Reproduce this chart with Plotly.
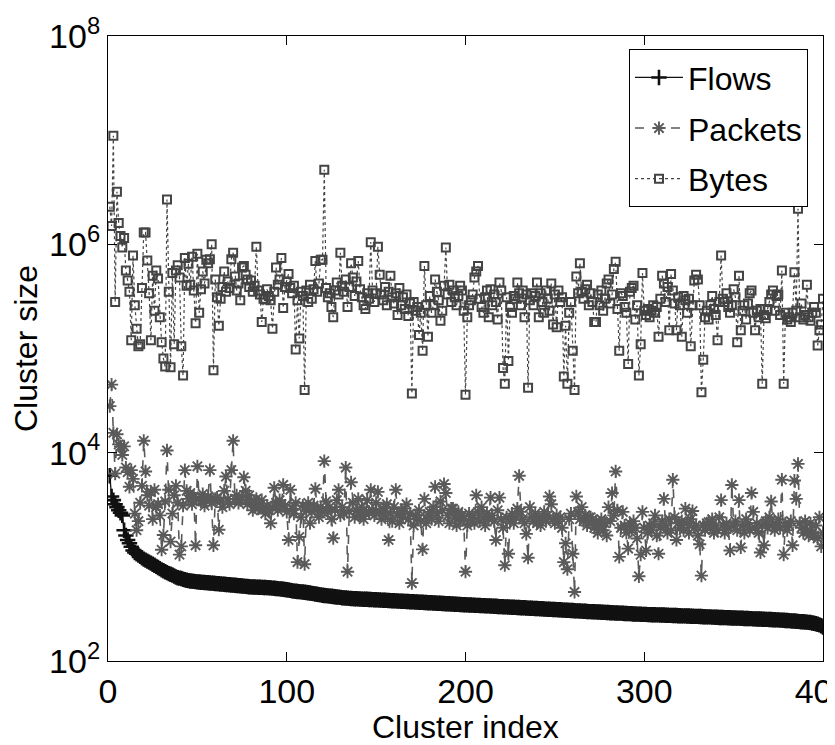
import plotly.graph_objects as go

cluster_index = list(range(1, 401))

flows = [
    6000, 3800, 3500, 3200, 3000, 2800, 2650, 2500, 1800, 1600,
    1450, 1350, 1250, 1150, 1100, 1070, 1040, 1010, 980, 950,
    930, 910, 890, 870, 850, 830, 810, 790, 770, 750,
    735, 720, 705, 690, 680, 670, 655, 640, 630, 625,
    620, 610, 602, 596, 591, 587, 584, 581, 578, 575,
    573, 571, 569, 567, 565, 563, 561, 559, 557, 555,
    553, 551, 549, 547, 545, 543, 541, 539, 537, 535,
    533, 531, 529, 527, 525, 523, 521, 519, 517, 515,
    514, 513, 512, 511, 510, 509, 508, 507, 506, 505,
    503, 501, 499, 497, 495, 493, 491, 489, 486, 483,
    480, 476, 472, 469, 467, 465, 463, 461, 459, 457,
    455, 452, 449, 446, 443, 440, 437, 434, 431, 428,
    426, 424, 422, 420, 418, 416, 414, 412, 410, 408,
    405, 404, 402, 401, 399, 398, 397, 396, 396, 395,
    394, 393, 392, 391, 391, 390, 389, 388, 387, 387,
    386, 385, 384, 383, 383, 382, 381, 380, 379, 379,
    378, 377, 376, 375, 375, 374, 373, 372, 371, 371,
    370, 369, 368, 367, 367, 366, 365, 364, 363, 363,
    362, 361, 360, 359, 359, 358, 357, 356, 355, 355,
    354, 353, 352, 351, 351, 350, 349, 348, 347, 347,
    346, 345, 345, 344, 343, 342, 342, 341, 340, 340,
    339, 338, 338, 337, 336, 335, 335, 334, 333, 333,
    332, 331, 331, 330, 329, 328, 328, 327, 326, 326,
    325, 324, 324, 323, 322, 321, 321, 320, 319, 319,
    318, 317, 317, 316, 315, 314, 314, 313, 312, 312,
    311, 310, 310, 309, 308, 307, 307, 306, 305, 305,
    304, 303, 303, 302, 301, 300, 300, 299, 298, 298,
    297, 297, 296, 295, 295, 294, 294, 293, 292, 292,
    291, 291, 290, 289, 289, 288, 288, 287, 286, 286,
    285, 285, 284, 283, 283, 282, 282, 281, 280, 280,
    280, 279, 279, 278, 278, 278, 277, 277, 276, 276,
    276, 275, 275, 274, 274, 273, 273, 273, 272, 272,
    271, 271, 271, 270, 270, 269, 269, 268, 268, 268,
    267, 267, 266, 266, 265, 265, 265, 264, 264, 263,
    263, 262, 262, 262, 261, 261, 260, 260, 259, 259,
    259, 258, 258, 257, 257, 256, 256, 256, 255, 255,
    254, 254, 253, 253, 253, 252, 252, 251, 251, 250,
    250, 249, 249, 248, 248, 247, 247, 246, 245, 245,
    244, 243, 242, 242, 241, 240, 239, 238, 238, 237,
    236, 235, 234, 232, 230, 228, 225, 222, 218, 212,
]

packets = [
    2.8e4, 4.5e4, 1.55e4, 6300, 1.5e4, 1.2e4, 1.15e4, 9500, 1.15e4, 7200,
    6500, 4700, 6800, 5600, 2600, 1800, 2200, 3300, 4800, 1.3e4,
    6600, 3900, 3100, 4200, 2300, 4400, 3000, 3200, 2500, 1170,
    1620, 3400, 1.05e4, 4400, 1400, 2600, 3900, 4800, 3300, 1050,
    1260, 3100, 6800, 4300, 3600, 4100, 3200, 3800, 1290, 7400,
    3600, 3400, 4000, 3100, 3500, 3800, 6800, 3300, 1290, 3600,
    3700, 1820, 3400, 3000, 4300, 5900, 3600, 3200, 6800, 1.3e4,
    3600, 3900, 3300, 3500, 3700, 5800, 4300, 3200, 3900, 3400,
    2800, 3300, 3600, 2900, 3100, 3500, 2900, 2600, 3100, 2800,
    2100, 3000, 4600, 3300, 2800, 3500, 3200, 4900, 3100, 2700,
    1450, 4400, 2900, 2600, 3300, 890, 1550, 2400, 3100, 850,
    2800, 3300, 2100, 2700, 3100, 4500, 2900, 2400, 3000, 2700,
    8300, 3400, 2700, 3000, 2300, 1510, 2800, 3500, 4400, 2500,
    3000, 2600, 7200, 720, 2750, 5200, 3300, 2400, 2800, 3600,
    2500, 3000, 2300, 2600, 3500, 2700, 4400, 2800, 2500, 3300,
    4200, 2700, 2300, 2900, 2500, 3200, 1450, 2600, 2200, 3000,
    4400, 2500, 2100, 2700, 2400, 2900, 3200, 2300, 2600, 560,
    2000, 2500, 2300, 2800, 2200, 1180, 3600, 2100, 2500, 2700,
    2300, 3000, 4700, 2600, 2200, 3400, 2800, 5000, 4100, 2500,
    2100, 2900, 2900, 2400, 2000, 2700, 2200, 2500, 2300, 720,
    2000, 2600, 2300, 2500, 2100, 3900, 2700, 2200, 3000, 2400,
    2000, 2600, 2300, 3700, 2500, 2200, 1450, 2800, 3700, 2300,
    1900, 830, 2400, 1070, 2200, 2600, 2100, 2400, 2900, 6000,
    2700, 2300, 2100, 1660, 980, 3000, 2400, 2200, 2600, 2100,
    2400, 2000, 2300, 2700, 2200, 2500, 3800, 3200, 2300, 2100,
    2500, 2200, 2400, 1900, 890, 1350, 760, 2300, 2600, 1070,
    460, 3800, 2700, 2300, 3000, 2200, 2500, 2000, 2400, 2400,
    2100, 1900, 2200, 1700, 2000, 2300, 1800, 2100, 1600, 3000,
    2200, 4100, 2500, 6600, 2800, 1000, 1900, 2700, 2000, 1700,
    1200, 2100, 1800, 2200, 1900, 1500, 650, 1050, 2700, 1900,
    1150, 1700, 2000, 1800, 2100, 2500, 1600, 1070, 1900, 2200,
    3600, 2000, 1700, 2300, 1800, 5500, 2400, 1450, 2100, 1900,
    2200, 1800, 2900, 2100, 1700, 2300, 2750, 1900, 2000, 1600,
    1320, 660, 2000, 1800, 2100, 2150, 1900, 2300, 1700, 2000,
    1800, 2400, 3500, 2000, 1700, 2100, 1900, 1150, 4900, 2000,
    2200, 1800, 3500, 1230, 2000, 1700, 2300, 2100, 1800, 4100,
    2700, 1900, 2100, 1700, 1100, 2000, 1290, 2200, 1900, 2400,
    3400, 2100, 1800, 2000, 2300, 1900, 5500, 1050, 2100, 1800,
    2000, 2200, 1290, 5400, 3600, 7800, 2100, 1900, 1700, 2200,
    1800, 1600, 2100, 1700, 1600, 2000, 1500, 2400, 1260, 1700,
]

bytes_ = [
    2.3e6, 1.5e6, 1.1e7, 2.8e5, 3.2e6, 1.6e6, 1.2e6, 9.3e5, 1.15e6, 5.6e5,
    4.5e5, 3.5e5, 1.2e5, 7.8e5, 2.6e5, 1.55e5, 1.05e5, 1.1e5, 3.8e5, 1.3e6,
    1.3e6, 7.0e5, 3.4e5, 1.2e5, 5.0e5, 2.3e5, 5.6e5, 4.7e5, 2.0e5, 1.15e5,
    8.0e4, 6.7e4, 2.7e6, 3.5e5, 6.6e4, 5.3e5, 1.1e5, 5.6e5, 6.3e5, 4.8e5,
    1.05e5, 5.5e4, 7.4e5, 4.0e5, 6.5e5, 4.1e5, 7.6e5, 3.6e5, 1.75e5, 8.1e5,
    2.2e5, 3.7e5, 5.5e5, 4.2e5, 7.1e5, 6.6e5, 7.2e5, 1.0e6, 6.2e4, 4.6e5,
    3.1e5, 1.65e5, 3.0e5, 3.9e5, 5.5e5, 3.5e5, 4.4e5, 3.8e5, 7.2e5, 8.3e5,
    4.9e5, 3.6e5, 4.2e5, 2.9e5, 6.0e5, 6.2e5, 5.1e5, 4.6e5, 3.9e5, 4.5e5,
    3.5e5, 4.0e5, 9.5e5, 3.6e5, 3.3e5, 1.8e5, 3.0e5, 2.95e5, 3.7e5, 3.2e5,
    2.9e5, 1.55e5, 3.5e5, 6.0e5, 4.1e5, 4.6e5, 7.4e5, 2.45e5, 3.9e5, 4.4e5,
    5.2e5, 3.8e5, 3.4e5, 4.0e5, 9.8e4, 2.9e5, 1.25e5, 3.5e5, 3.2e5, 4.0e4,
    3.6e5, 2.8e5, 4.1e5, 3.0e5, 3.7e5, 6.9e5, 3.5e5, 4.2e5, 7.1e5, 7.1e5,
    5.2e6, 3.8e5, 3.1e5, 3.4e5, 2.5e5, 2.0e5, 3.6e5, 4.3e5, 3.3e5, 8.3e5,
    4.0e5, 3.5e5, 4.6e5, 2.5e5, 3.9e5, 6.6e5, 4.8e5, 3.2e5, 4.4e5, 6.9e5,
    3.7e5, 3.1e5, 2.6e5, 2.4e5, 3.4e5, 3.0e5, 1.05e6, 3.6e5, 2.8e5, 3.4e5,
    9.5e5, 5.1e5, 3.3e5, 2.9e5, 3.9e5, 2.6e5, 3.5e5, 5.0e5, 3.1e5, 2.7e5,
    3.4e5, 2.1e5, 3.8e5, 2.6e5, 3.1e5, 2.4e5, 3.3e5, 2.05e5, 2.7e5, 3.7e4,
    2.8e5, 2.3e5, 2.5e5, 1.35e5, 2.2e5, 9.5e4, 6.2e5, 2.6e5, 1.3e5, 3.2e5,
    2.2e5, 2.6e5, 4.6e5, 3.5e5, 2.9e5, 1.85e5, 2.3e5, 4.0e5, 9.3e5, 3.3e5,
    4.1e5, 2.8e5, 3.6e5, 3.1e5, 2.6e5, 3.2e5, 4.0e5, 3.6e5, 2.3e5, 3.6e4,
    2.0e5, 2.6e5, 2.9e5, 3.3e5, 4.8e5, 5.5e5, 6.2e5, 3.0e5, 2.5e5, 2.2e5,
    3.1e5, 3.6e5, 2.0e5, 3.7e5, 2.6e5, 3.3e5, 2.8e5, 1.9e5, 4.3e5, 3.6e5,
    6.5e4, 4.6e4, 3.1e5, 7.6e4, 2.5e5, 2.2e5, 3.2e5, 3.0e5, 4.3e5, 3.4e5,
    2.6e5, 3.6e5, 2.0e5, 3.3e5, 4.2e4, 2.9e5, 3.4e5, 2.6e5, 3.2e5, 4.3e5,
    2.0e5, 3.4e5, 2.8e5, 2.2e5, 3.6e5, 3.0e5, 2.3e5, 4.2e5, 1.7e5, 3.3e5,
    1.6e5, 3.6e5, 2.8e5, 3.1e5, 5.4e4, 1.65e5, 4.6e4, 2.2e5, 2.8e5, 9.5e4,
    4.0e4, 4.9e5, 3.4e5, 6.6e5, 3.5e5, 3.0e5, 3.7e5, 4.1e5, 2.6e5, 3.4e5,
    2.8e5, 1.8e5, 1.8e5, 3.3e5, 2.6e5, 3.6e5, 2.3e5, 3.0e5, 4.2e5, 4.6e5,
    2.7e5, 3.3e5, 5.8e5, 6.8e5, 2.4e5, 9.5e4, 3.4e5, 3.2e5, 2.5e5, 2.2e5,
    7.1e4, 3.5e5, 3.8e5, 4.0e5, 1.9e5, 2.6e5, 5.5e4, 1.1e5, 5.3e5, 2.3e5,
    2.1e5, 2.4e5, 2.0e5, 2.3e5, 2.6e5, 2.2e5, 2.5e5, 1.3e5, 3.0e5, 5.0e5,
    4.2e5, 2.8e5, 3.9e5, 1.5e5, 5.2e5, 3.6e5, 2.7e5, 1.5e5, 3.1e5, 2.6e5,
    1.3e5, 3.2e5, 2.9e5, 2.2e5, 3.0e5, 1.05e5, 2.6e5, 4.5e5, 5.1e5, 4.6e5,
    2.6e5, 3.8e4, 7.8e4, 2.0e5, 2.3e5, 1.9e5, 2.6e5, 3.2e5, 2.4e5, 2.1e5,
    1.2e5, 2.8e5, 7.8e5, 3.0e5, 2.8e5, 3.4e5, 2.5e5, 2.2e5, 2.6e5, 3.7e5,
    3.1e5, 1.15e5, 5.0e5, 1.5e5, 2.3e5, 2.6e5, 1.9e5, 2.7e5, 3.4e5, 3.6e5,
    2.2e5, 1.5e5, 2.3e5, 2.0e5, 2.4e5, 4.6e4, 2.1e5, 1.95e5, 2.4e5, 2.8e5,
    3.3e5, 3.6e5, 2.3e5, 3.2e5, 3.3e5, 2.1e5, 5.6e5, 4.6e4, 2.2e5, 1.9e5,
    2.0e5, 1.8e5, 2.2e5, 5.4e5, 2.3e5, 2.2e6, 2.0e5, 2.7e5, 1.9e5, 2.1e5,
    4.1e5, 2.0e5, 1.85e5, 2.2e5, 2.5e5, 2.2e5, 1.07e5, 1.5e5, 1.7e5, 3.0e5,
]

y_tickvals = [1e2, 1e4, 1e6, 1e8]
y_ticktext = ["10<sup>2</sup>", "10<sup>4</sup>", "10<sup>6</sup>", "10<sup>8</sup>"]
x_tickvals = [0, 100, 200, 300, 400]

FONT = "Liberation Sans, Arial, Helvetica, sans-serif"

fig = go.Figure()
fig.add_trace(go.Scatter(
    x=cluster_index, y=flows, name="Flows", mode="lines+markers",
    legendgroup="a",
    line=dict(color="#111111", width=1.3, dash="solid"),
    marker=dict(symbol="cross-thin-open", size=11,
                line=dict(color="#111111", width=2.6)),
))
fig.add_trace(go.Scatter(
    x=cluster_index, y=packets, name="Packets", mode="lines+markers",
    legendgroup="b",
    line=dict(color="#5a5a5a", width=1.6, dash="dash"),
    marker=dict(symbol="asterisk-open", size=11,
                line=dict(color="#585858", width=1.9)),
))
fig.add_trace(go.Scatter(
    x=cluster_index, y=bytes_, name="Bytes", mode="lines+markers",
    legendgroup="c",
    line=dict(color="#444444", width=1.2, dash="dot"),
    marker=dict(symbol="square-open", size=8,
                line=dict(color="#333333", width=2)),
))

# The page body has an 8px default margin, so the figure is 8px smaller
# and its margins are reduced by 8px on the top/left.
fig.update_layout(
    template="none",
    width=827, height=737,
    margin=dict(l=100, r=12, t=28, b=84),
    paper_bgcolor="white", plot_bgcolor="white",
    font=dict(family=FONT, size=32, color="black"),
    showlegend=True,
    legend=dict(
        x=0.979, y=0.979, xanchor="right", yanchor="top",
        bgcolor="white", bordercolor="black", borderwidth=1,
        font=dict(family=FONT, size=32, color="black"),
        tracegroupgap=6, traceorder="grouped", itemwidth=48,
    ),
    xaxis=dict(
        automargin=False,
        range=[0, 400], tickvals=x_tickvals,
        ticks="inside", ticklen=9, tickcolor="black", tickwidth=1,
        showline=True, linecolor="black", linewidth=1, mirror="ticks",
        showgrid=False, zeroline=False, ticklabeloverflow="allow",
        tickfont=dict(family=FONT, size=34, color="black"),
    ),
    yaxis=dict(
        automargin=False,
        type="log", range=[2, 8], tickvals=y_tickvals, ticktext=y_ticktext,
        ticks="inside", ticklen=9, tickcolor="black", tickwidth=1,
        showline=True, linecolor="black", linewidth=1, mirror="ticks",
        showgrid=False, zeroline=False,
        tickfont=dict(family=FONT, size=34, color="black"),
        title=dict(text="Cluster size", font=dict(family=FONT, size=32, color="black"), standoff=4),
    ),
    annotations=[
        dict(text="Cluster index", xref="paper", yref="paper", x=0.5, y=-0.106,
             xanchor="center", yanchor="middle", showarrow=False,
             font=dict(family=FONT, size=32, color="black")),
    ],
)

fig.write_html("out.html")
